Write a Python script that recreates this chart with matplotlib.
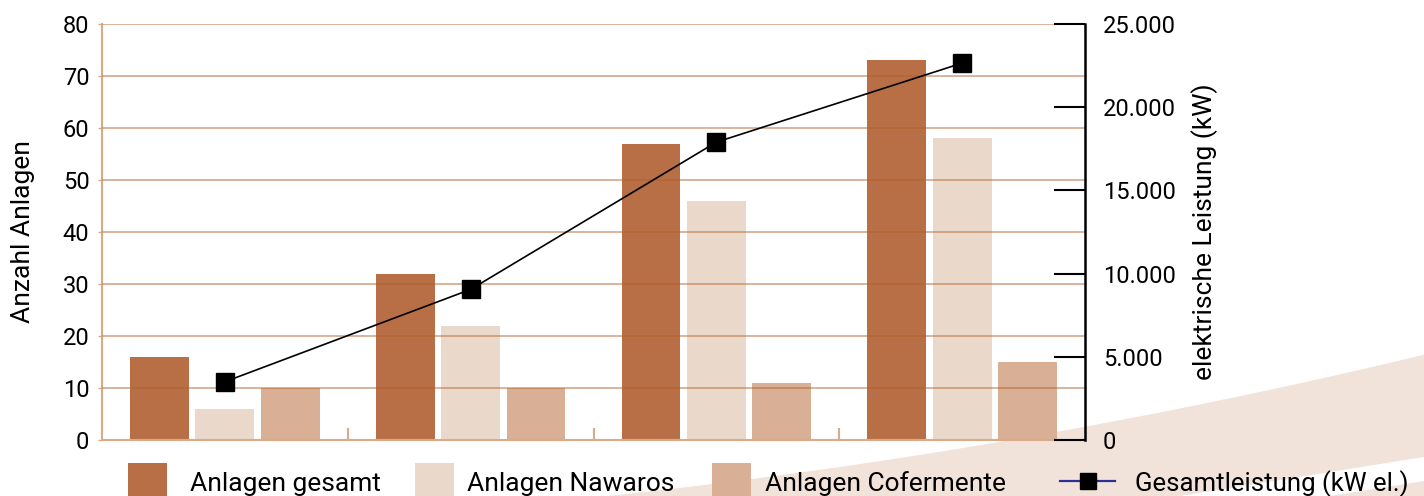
import matplotlib.pyplot as plt
import numpy as np
from matplotlib.patches import Rectangle, Polygon
from matplotlib.lines import Line2D
from matplotlib.ticker import FuncFormatter

plt.rcParams['font.family'] = ['Roboto', 'DejaVu Sans']

# data
groups = ["1", "2", "3", "4"]
anlagen_gesamt = [16, 32, 57, 73]
anlagen_nawaros = [6, 22, 46, 58]
anlagen_cofermente = [10, 10, 11, 15]
gesamtleistung = [3500, 9050, 17900, 22650]
series_labels = ["Anlagen gesamt", "Anlagen Nawaros", "Anlagen Cofermente"]
line_label = "Gesamtleistung (kW el.)"

C_GESAMT = '#b86f45'
C_NAWAROS = '#ead9ca'
C_COFER = '#d9b095'
C_TAN = '#d9ab88'
C_SWOOSH = '#f1e3d9'

W, H = 1424, 496
fig = plt.figure(figsize=(W / 100, H / 100), dpi=100)


def fx(px):
    return px / W


def fy(py):
    return 1 - py / H


# decorative swoosh in the background (pixel coords, y from top)
xs = np.linspace(607, 1424, 80)
d = xs - 607
top_y = 496 - 0.1055 * d - 8.25e-5 * d ** 2
bx = np.linspace(1424, 1180, 40)
bot_y = 457 + (bx[0] - bx) * (39 / 244)
pts = np.column_stack([fx(np.concatenate([xs, bx])), fy(np.concatenate([top_y, bot_y]))])
fig.add_artist(Polygon(pts, closed=True, transform=fig.transFigure,
                       facecolor=C_SWOOSH, edgecolor='none', zorder=-5))
pts2 = np.column_stack([fx(np.array([1330, 1424, 1424])), fy(np.array([496, 481, 496]))])
fig.add_artist(Polygon(pts2, closed=True, transform=fig.transFigure,
                       facecolor=C_SWOOSH, edgecolor='none', zorder=-5))

ax = fig.add_axes([fx(102), fy(440), (1085 - 102) / W, (440 - 24) / H])
ax.patch.set_visible(False)

x = np.arange(len(groups))
step = 0.266
bw = 0.24
colors = [C_GESAMT, C_NAWAROS, C_COFER]
for i, vals in enumerate([anlagen_gesamt, anlagen_nawaros, anlagen_cofermente]):
    ax.bar(x + (i - 1) * step, vals, bw, color=colors[i], zorder=2)

ax.set_xlim(-0.5, len(groups) - 0.5)
ax.set_ylim(0, 80)
ax.set_yticks(range(0, 81, 10))
for yv in range(10, 81, 10):
    ax.axhline(yv, color='#b0602a', alpha=0.5, lw=1.3, zorder=3)

ax.set_xticks(x[:-1] + 0.5)
ax.set_xticklabels([])
ax.tick_params(axis='x', direction='in', length=9, width=1.5, color=C_TAN)
ax.tick_params(axis='y', length=3, width=1, color=C_TAN, labelsize=17, pad=6)
for s in ['left', 'bottom']:
    ax.spines[s].set_color(C_TAN)
    ax.spines[s].set_linewidth(1.5)
ax.spines['top'].set_visible(False)
ax.spines['right'].set_visible(False)
ax.set_ylabel("Anzahl Anlagen", fontsize=19, labelpad=20)

ax2 = ax.twinx()
ax2.patch.set_visible(False)
ax2.plot(x, gesamtleistung, color='black', lw=1.2, marker='s', markersize=13.5, zorder=5)
ax2.set_ylim(0, 25000)
ax2.set_yticks(range(0, 25001, 5000))
ax2.yaxis.set_major_formatter(FuncFormatter(lambda v, p: '{:,}'.format(int(v)).replace(',', '.')))
ax2.tick_params(axis='y', direction='in', length=22, width=1.5, color='black', labelsize=17, pad=13)
for s in ['left', 'bottom', 'top']:
    ax2.spines[s].set_visible(False)
ax2.spines['right'].set_color('black')
ax2.spines['right'].set_linewidth(1.8)
ax2.set_ylabel("elektrische Leistung (kW)", fontsize=19, labelpad=11)

# legend drawn by hand to match the reference spacing
patch_x = [128, 415, 712]
text_x = [190, 467, 765]
for px, tx, c, lab in zip(patch_x, text_x, colors, series_labels):
    fig.add_artist(Rectangle((fx(px), fy(496)), fx(39), 33 / H, transform=fig.transFigure,
                             facecolor=c, edgecolor='none'))
    fig.text(fx(tx), fy(491), lab, fontsize=19, va='baseline', ha='left')
fig.add_artist(Line2D([fx(1060), fx(1115)], [fy(481), fy(481)], transform=fig.transFigure,
                      color='#2e3192', lw=1.6))
fig.add_artist(Line2D([fx(1088)], [fy(481)], transform=fig.transFigure, marker='s',
                      markersize=12, color='black', lw=0))
fig.text(fx(1135), fy(491), line_label, fontsize=18.5, va='baseline', ha='left')

fig.savefig("out.png", dpi=100)
plt.close(fig)
